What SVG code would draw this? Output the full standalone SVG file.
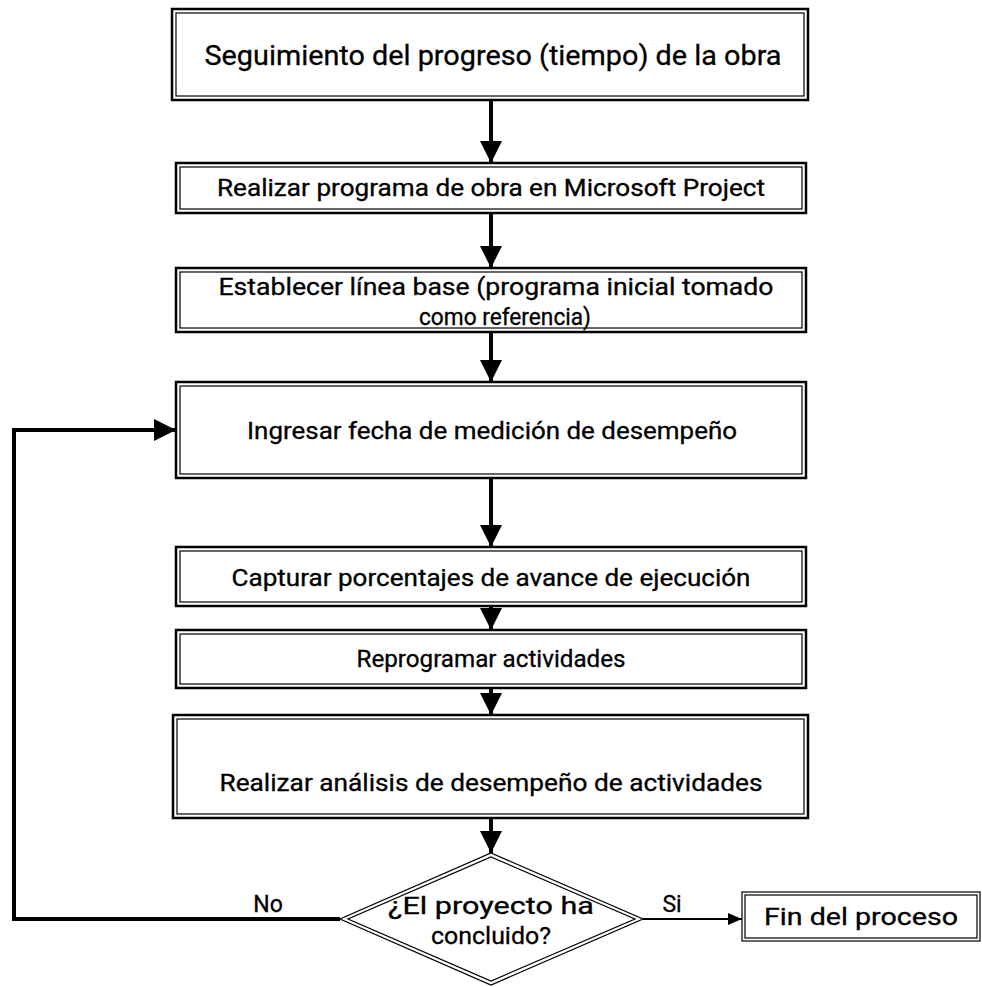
<svg xmlns="http://www.w3.org/2000/svg" width="982" height="987" viewBox="0 0 982 987">
<style>
.o{fill:#fff;stroke:#000;stroke-width:2.5}
.i{fill:none;stroke:#000;stroke-width:1.2}
.t{font-family:Roboto,"Liberation Sans",sans-serif;font-size:23px;font-weight:400;fill:#000;text-anchor:middle;stroke:#000;stroke-width:0.3}
.big{font-size:27px}
.c{fill:none;stroke:#000;stroke-width:4}
.thin{fill:none;stroke:#000;stroke-width:2}
</style>
<defs>
<marker id="ah" markerUnits="userSpaceOnUse" markerWidth="22" markerHeight="24" refX="22" refY="11" orient="auto">
<path d="M0,0 L22,11 L0,22 Z" fill="#000"/>
</marker>
<marker id="ahs" markerUnits="userSpaceOnUse" markerWidth="14" markerHeight="14" refX="14" refY="6" orient="auto">
<path d="M0,0 L14,6 L0,12 Z" fill="#000"/>
</marker>
</defs>
<g id="connectors">
<line class="c" x1="491" y1="100" x2="491" y2="163" marker-end="url(#ah)"/>
<line class="c" x1="491" y1="213" x2="491" y2="268" marker-end="url(#ah)"/>
<line class="c" x1="491" y1="332" x2="491" y2="382" marker-end="url(#ah)"/>
<line class="c" x1="491" y1="478" x2="491" y2="547" marker-end="url(#ah)"/>
<line class="c" x1="491" y1="606" x2="491" y2="630" marker-end="url(#ah)"/>
<line class="c" x1="491" y1="688" x2="491" y2="715" marker-end="url(#ah)"/>
<line class="c" x1="491" y1="818" x2="491" y2="853" marker-end="url(#ah)"/>
<polyline class="c" points="340,919 14,919 14,430 176,430" marker-end="url(#ah)"/>
<line class="thin" x1="643" y1="919" x2="742" y2="919" marker-end="url(#ahs)"/>
<text class="t" x="268" y="912">No</text>
<text class="t" x="672" y="912">Si</text>
</g>
<g id="n1">
<rect class="o" x="172" y="9" width="636" height="91"/>
<rect class="i" x="176" y="13" width="628" height="83"/>
<text class="t big" x="493" y="65" textLength="577" lengthAdjust="spacingAndGlyphs">Seguimiento del progreso (tiempo) de la obra</text>
</g>
<g id="n2">
<rect class="o" x="176" y="163" width="630" height="50"/>
<rect class="i" x="180" y="167" width="622" height="42"/>
<text class="t" x="491" y="196" textLength="548" lengthAdjust="spacingAndGlyphs">Realizar programa de obra en Microsoft Project</text>
</g>
<g id="n3">
<rect class="o" x="176" y="268" width="630" height="64"/>
<rect class="i" x="180" y="272" width="622" height="56"/>
<text class="t" x="496" y="295" textLength="555" lengthAdjust="spacingAndGlyphs">Establecer línea base (programa inicial tomado</text>
<text class="t" x="505" y="325" textLength="172" lengthAdjust="spacingAndGlyphs">como referencia)</text>
</g>
<g id="n4">
<rect class="o" x="176" y="382" width="630" height="96"/>
<rect class="i" x="180" y="386" width="622" height="88"/>
<text class="t" x="492" y="439" textLength="490" lengthAdjust="spacingAndGlyphs">Ingresar fecha de medición de desempeño</text>
</g>
<g id="n5">
<rect class="o" x="176" y="547" width="630" height="59"/>
<rect class="i" x="180" y="551" width="622" height="51"/>
<text class="t" x="491" y="586" textLength="519" lengthAdjust="spacingAndGlyphs">Capturar porcentajes de avance de ejecución</text>
</g>
<g id="n6">
<rect class="o" x="176" y="630" width="630" height="58"/>
<rect class="i" x="180" y="634" width="622" height="50"/>
<text class="t" x="491" y="667" textLength="269" lengthAdjust="spacingAndGlyphs">Reprogramar actividades</text>
</g>
<g id="n7">
<rect class="o" x="173" y="715" width="635" height="103"/>
<rect class="i" x="177" y="719" width="627" height="95"/>
<text class="t" x="491" y="791" textLength="543" lengthAdjust="spacingAndGlyphs">Realizar análisis de desempeño de actividades</text>
</g>
<g id="n8">
<polygon points="491,853 643,919 491,985 340,919" fill="#fff" stroke="#000" stroke-width="1.2"/>
<polygon points="491,857 635,919 491,981 348,919" fill="none" stroke="#000" stroke-width="1.2"/>
<text class="t" x="491" y="914" textLength="206" lengthAdjust="spacingAndGlyphs">¿El proyecto ha</text>
<text class="t" x="491" y="944" textLength="120" lengthAdjust="spacingAndGlyphs">concluido?</text>
</g>
<g id="n9">
<rect x="742" y="892" width="238" height="49" fill="#fff" stroke="#000" stroke-width="1.2"/>
<rect x="745" y="895" width="232" height="43" fill="none" stroke="#000" stroke-width="1.2"/>
<text class="t" x="861" y="925" textLength="194" lengthAdjust="spacingAndGlyphs">Fin del proceso</text>
</g>
</svg>
